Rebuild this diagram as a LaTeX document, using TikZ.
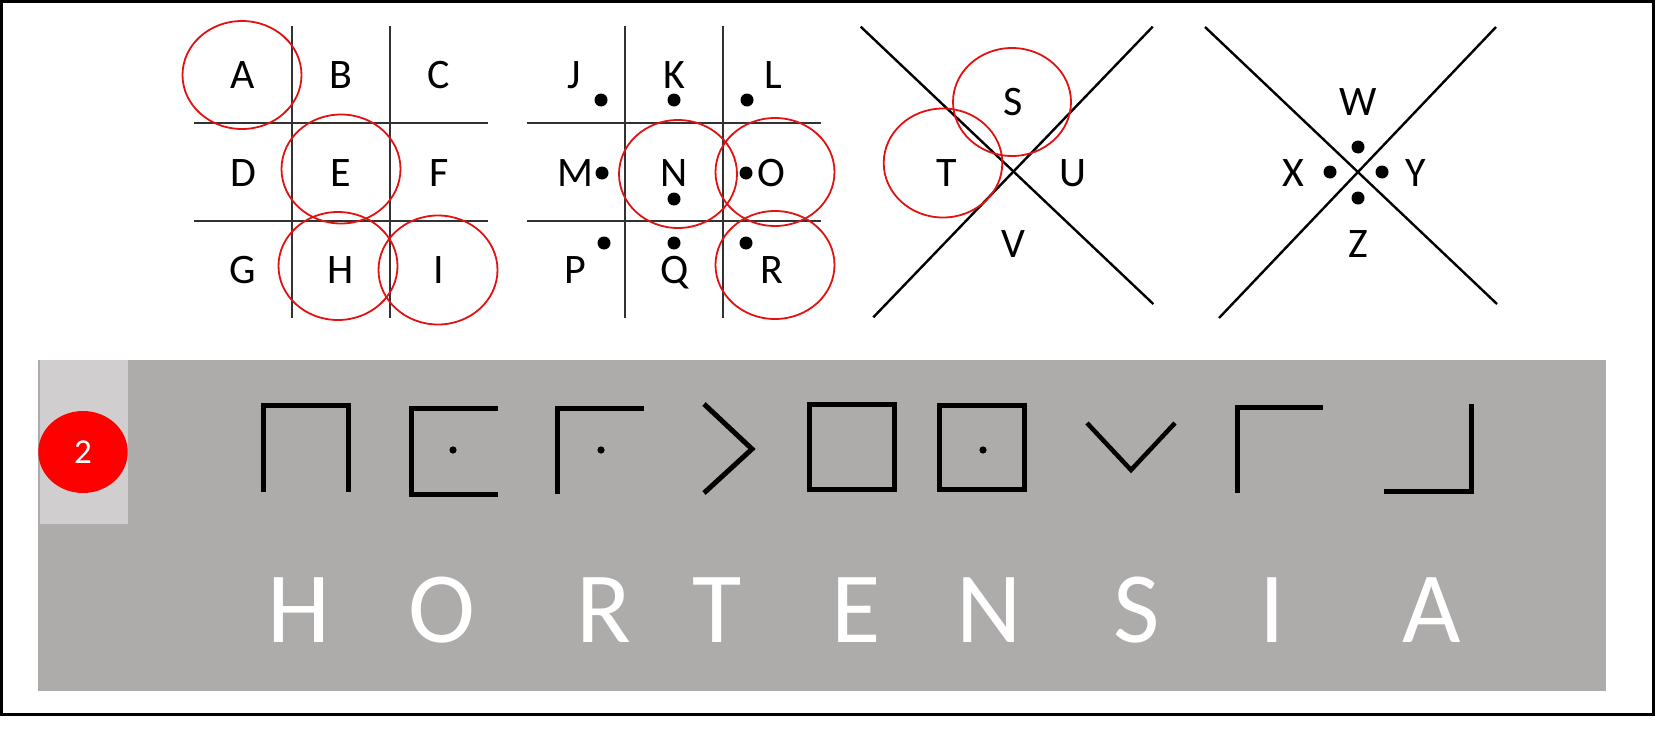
\documentclass[tikz,border=0pt]{standalone}
\usepackage{fontspec}
\setmainfont{Carlito}
\definecolor{circred}{RGB}{226,18,18}
\definecolor{badgered}{RGB}{255,0,0}
\definecolor{bandgrey}{RGB}{174,171,171}
\definecolor{tabgrey}{RGB}{208,206,207}
\definecolor{gridline}{RGB}{50,50,50}
\begin{document}
\begin{tikzpicture}[x=1pt,y=-1pt,
  toplet/.style={font=\fontsize{42}{42}\selectfont, anchor=base, inner sep=0pt},
  biglet/.style={font=\fontsize{101}{101}\selectfont, text=white, anchor=base, inner sep=0pt},
  ring/.style={draw=circred, line width=1.8pt},
  gridl/.style={draw=gridline, line width=1.6pt},
  xline/.style={draw=black, line width=2.4pt},
  glyph/.style={draw=black, line width=5pt, line join=miter},
  bigdot/.style={fill=black},
  smalldot/.style={fill=black}]
\useasboundingbox (0,0) rectangle (1656,728);
\fill[white] (0,0) rectangle (1656,728);
% outer frame
\draw[line width=2.7pt] (1.35,1.35) rectangle (1653.6,714.6);

% ---------- grid 1 ----------
\draw[gridl] (292,26) -- (292,318);
\draw[gridl] (390,26) -- (390,318);
\draw[gridl] (194,123) -- (488,123);
\draw[gridl] (194,221) -- (488,221);
\node[toplet] (gA) at (243,88) {A};
\node[toplet] (gB) at (341,88) {B};
\node[toplet] (gC) at (439,88) {C};
\node[toplet] (gD) at (243,186) {D};
\node[toplet] (gE) at (341,186) {E};
\node[toplet] (gF) at (439,186) {F};
\node[toplet] (gG) at (243,283) {G};
\node[toplet] (gH) at (341,283) {H};
\node[toplet] (gI) at (439,283) {I};
\draw[ring] (242,75) ellipse [x radius=59.5, y radius=54];
\draw[ring] (341,169) ellipse [x radius=59.5, y radius=54.5];
\draw[ring] (338,266) ellipse [x radius=59.5, y radius=54];
\draw[ring] (438,270) ellipse [x radius=59.5, y radius=54.5];

% ---------- grid 2 ----------
\draw[gridl] (624.7,26) -- (624.7,318);
\draw[gridl] (722.7,26) -- (722.7,318);
\draw[gridl] (527,123) -- (821,123);
\draw[gridl] (527,221) -- (821,221);
\node[toplet] (gJ) at (574,88) {J};
\node[toplet] (gK) at (674,88) {K};
\node[toplet] (gL) at (773,88) {L};
\node[toplet] (gM) at (575,186) {M};
\node[toplet] (gN) at (674,186) {N};
\node[toplet] (gO) at (771,186) {O};
\node[toplet] (gP) at (575,283) {P};
\node[toplet] (gQ) at (675,283) {Q};
\node[toplet] (gR) at (772,283) {R};
\foreach \px/\py in {601/100,674/100,747/100,602/173,674/199,746/173,604/243,674/243,746/243}
  \fill[bigdot] (\px,\py) circle [radius=6.5];
\draw[ring] (678,174) ellipse [x radius=59, y radius=54];
\draw[ring] (775,172) ellipse [x radius=59.5, y radius=54];
\draw[ring] (775,265) ellipse [x radius=59.5, y radius=54];

% ---------- X 1 ----------
\draw[xline] (860.7,26.7) -- (1153.3,304);
\draw[xline] (873.3,317.3) -- (1152.7,26.7);
\node[toplet] (gS) at (1013,115) {S};
\node[toplet] (gT) at (947,186) {T};
\node[toplet] (gU) at (1073,186) {U};
\node[toplet] (gV) at (1013,257) {V};
\draw[ring] (1012,102) ellipse [x radius=59, y radius=54];
\draw[ring] (943,163) ellipse [x radius=59.3, y radius=54.5];

% ---------- X 2 ----------
\draw[xline] (1205,27) -- (1497,304);
\draw[xline] (1219,318) -- (1496,27);
\node[toplet] (gW) at (1358,115) {W};
\node[toplet] (gX) at (1293,186) {X};
\node[toplet] (gY) at (1416,186) {Y};
\node[toplet] (gZ) at (1358,257) {Z};
\foreach \px/\py in {1358/147,1330/172,1382/172,1358/198}
  \fill[bigdot] (\px,\py) circle [radius=6.5];

% ---------- bottom band ----------
\fill[bandgrey] (38,360) rectangle (1606,691);
\fill[tabgrey] (40,360) rectangle (128,524);
\fill[badgered] (83,452) ellipse [x radius=44.7, y radius=41];
\node[font=\fontsize{35}{35}\selectfont, text=white, anchor=base, inner sep=0pt] (badge) at (83,463) {2};

% cipher glyphs
\draw[glyph] (263.3,492) -- (263.3,405) -- (348.3,405) -- (348.3,492);
\draw[glyph] (498,408) -- (411.3,408) -- (411.3,494) -- (498,494);
\fill[smalldot] (453,450) circle [radius=3.6];
\draw[glyph] (557.7,494) -- (557.7,408) -- (644,408);
\fill[smalldot] (601,450) circle [radius=3.6];
\draw[glyph] (704,404) -- (752,449) -- (704,493);
\draw[glyph] (809,404) rectangle (894,489.5);
\draw[glyph] (939.5,405.5) rectangle (1024,489.5);
\fill[smalldot] (983,450) circle [radius=3.6];
\draw[glyph, line width=4.5pt] (1087,423) -- (1131,470) -- (1175,423);
\draw[glyph] (1237.5,493) -- (1237.5,407.5) -- (1323,407.5);
\draw[glyph] (1471,404) -- (1471,491) -- (1384,491);

% plaintext
\node[biglet] (pH) at (299,642) {H};
\node[biglet] (pO) at (442,642) {O};
\node[biglet] (pR) at (604,642) {R};
\node[biglet] (pT) at (717,642) {T};
\node[biglet] (pE) at (856,642) {E};
\node[biglet] (pN) at (989,642) {N};
\node[biglet] (pS) at (1137,642) {S};
\node[biglet] (pI) at (1272,642) {I};
\node[biglet] (pA) at (1432,642) {A};
\end{tikzpicture}
\end{document}
